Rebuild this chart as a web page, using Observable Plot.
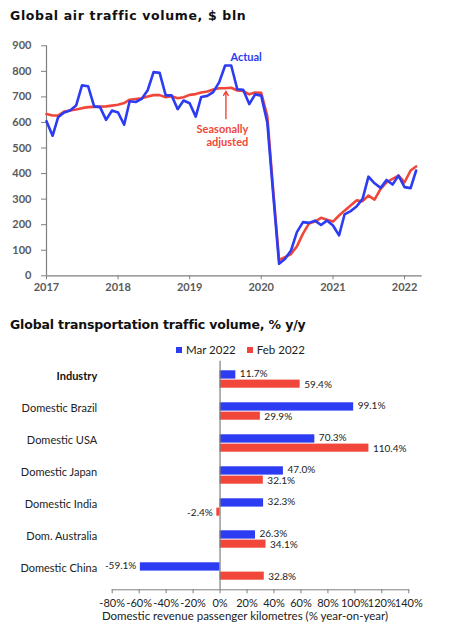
<!DOCTYPE html>
<html>
<head>
<meta charset="utf-8">
<script src="https://cdn.jsdelivr.net/npm/d3@7"></script>
<script src="https://cdn.jsdelivr.net/npm/@observablehq/plot@0.6"></script>
<style>
  html, body { margin: 0; padding: 0; background: #fff; }
  #page { position: relative; width: 470px; height: 636px; overflow: hidden; background: #fff; font-family: Lato, "Open Sans", sans-serif; }
  .title { position: absolute; left: 10px; font-family: "DejaVu Sans", sans-serif; font-weight: bold; font-size: 12.5px; color: #111; white-space: nowrap; }
  #chart1 { position: absolute; left: 0; top: 35px; }
  #chart2 { position: absolute; left: 0; top: 340px; }
  #legend { position: absolute; top: 343px; left: 176px; display: flex; align-items: center; font-size: 11.5px; color: #222; white-space: nowrap; }
  #legend .sw { display: inline-block; width: 6px; height: 6px; margin-right: 4px; }
  #legend .item { display: flex; align-items: center; margin-right: 11px; }
  #xlabel { position: absolute; top: 609px; left: 0; width: 490px; text-align: center; font-size: 11.5px; color: #222; }
</style>
</head>
<body>
<div id="page">
  <div class="title" style="top:8px; letter-spacing:0.65px">Global air traffic volume, $ bln</div>
  <div id="chart1"></div>
  <div class="title" style="top:317px; letter-spacing:-0.15px">Global transportation traffic volume, % y/y</div>
  <div id="legend"></div>
  <div id="chart2"></div>
  <div id="xlabel">Domestic revenue passenger kilometres (% year-on-year)</div>
</div>
<script>
// ---------- Chart 1 data: monthly, Jan 2017 – Mar 2022 ----------
const firstMonth = "2017-01";
const actual = [
  605, 548, 620, 639, 647, 666, 745, 742, 663, 660, 610, 647,
  639, 591, 683, 680, 692, 726, 797, 794, 706, 706, 652, 686,
  675, 623, 700, 704, 719, 758, 823, 823, 730, 728, 672, 710,
  705, 600, 330, 47, 66, 99, 171, 210, 207, 216, 199, 216,
  197, 158, 240, 253, 271, 301, 388, 362, 344, 375, 357, 392,
  347, 343, 412
];
const seasonallyAdjusted = [
  633, 627, 627, 643, 647, 651, 656, 660, 661, 662, 663, 666,
  669, 676, 689, 692, 695, 702, 707, 707, 699, 703, 695, 699,
  708, 711, 717, 721, 729, 734, 734, 736, 725, 723, 710, 717,
  716, 625, 345, 62, 73, 85, 115, 165, 205, 212, 227, 219,
  212, 236, 255, 275, 295, 292, 314, 298, 340, 366, 379, 392,
  366, 412, 428
];
const yTicks1 = [0, 100, 200, 300, 400, 500, 600, 700, 800, 900];
const xDomain1 = ["2017-01-01", "2022-04-01"];
const actualNote = [{date: "2019-10-16", value: 855, text: "Actual"}];
const saNote = [{date: "2019-10-27", value: 548, text: "Seasonally\nadjusted"}];
const saArrow = [{date: "2019-07-05", from: 615, to: 722}];

// ---------- Chart 2 data ----------
const categories = ["Industry", "Domestic Brazil", "Domestic USA", "Domestic Japan", "Domestic India", "Dom. Australia", "Domestic China"];
const seriesNames = ["Mar 2022", "Feb 2022"];
const mar2022 = [11.7, 99.1, 70.3, 47.0, 32.3, 26.3, -59.1];
const feb2022 = [59.4, 29.9, 110.4, 32.1, -2.4, 34.1, 32.8];
const xTicks2 = [-80, -60, -40, -20, 0, 20, 40, 60, 80, 100, 120, 140];

const BLUE = "#2b3cf2";
const RED = "#f0473a";
const seriesColors = [BLUE, RED];

// ---------- Build chart 1 ----------
const start = d3.utcParse("%Y-%m")(firstMonth);
const dates = actual.map((_, i) => d3.utcMonth.offset(start, i));
const lineData = dates.map((d, i) => ({date: d, actual: actual[i], sa: seasonallyAdjusted[i]}));
const parseDay = d3.utcParse("%Y-%m-%d");

const chart1 = Plot.plot({
  width: 470,
  height: 265,
  marginLeft: 46,
  marginRight: 48.3,
  marginTop: 10.3,
  marginBottom: 24.7,
  style: {fontFamily: "Lato, sans-serif", fontSize: "11px", fontWeight: "bold", color: "#5a5a5a", background: "transparent"},
  x: {type: "utc", domain: xDomain1.map(parseDay)},
  y: {domain: [0, 900]},
  marks: [
    Plot.axisY({ticks: yTicks1, tickSize: 5, tickPadding: 10, label: null, stroke: "#7f7f7f"}),
    Plot.axisX({ticks: d3.utcYear.every(1), tickFormat: d3.utcFormat("%Y"), tickSize: 4, tickPadding: 3, label: null, stroke: "#7f7f7f"}),
    Plot.ruleY([0], {stroke: "#7f7f7f", strokeWidth: 1.2}),
    Plot.ruleX([dates[0]], {y1: 0, y2: 900, stroke: "#7f7f7f", strokeWidth: 1.2}),
    Plot.line(lineData, {x: "date", y: "sa", stroke: RED, strokeWidth: 2.6, strokeLinejoin: "round"}),
    Plot.line(lineData, {x: "date", y: "actual", stroke: BLUE, strokeWidth: 2.6, strokeLinejoin: "round"}),
    Plot.text(actualNote, {x: d => parseDay(d.date), y: "value", text: "text", fill: BLUE, fontSize: 11, fontWeight: "bold"}),
    Plot.text(saNote, {x: d => parseDay(d.date), y: "value", text: "text", fill: RED, fontSize: 11, fontWeight: "bold", textAnchor: "end", lineHeight: 1.15}),
    Plot.arrow(saArrow, {x: d => parseDay(d.date), y1: "from", y2: "to", stroke: RED, strokeWidth: 1.4, headLength: 5})
  ]
});
document.getElementById("chart1").appendChild(chart1);

// ---------- Legend ----------
const legend = document.getElementById("legend");
seriesNames.forEach((name, i) => {
  const item = document.createElement("span");
  item.className = "item";
  const sw = document.createElement("span");
  sw.className = "sw";
  sw.style.background = seriesColors[i];
  item.appendChild(sw);
  item.appendChild(document.createTextNode(name));
  legend.appendChild(item);
});

// ---------- Build chart 2 ----------
const rows = [];
categories.forEach((c, i) => {
  rows.push({cat: c, series: seriesNames[0], value: mar2022[i]});
  rows.push({cat: c, series: seriesNames[1], value: feb2022[i]});
});
const marRows = rows.filter(r => r.series === seriesNames[0]);
const febRows = rows.filter(r => r.series === seriesNames[1]);
const fmt = v => v.toFixed(1) + "%";

function valueLabels(data, dy, fill) {
  return [
    Plot.text(data.filter(r => r.value >= 0), {x: "value", y: "cat", text: d => fmt(d.value), textAnchor: "start", dx: 4, dy, fill, fontSize: 10}),
    Plot.text(data.filter(r => r.value < 0), {x: "value", y: "cat", text: d => fmt(d.value), textAnchor: "end", dx: -4, dy, fill, fontSize: 10})
  ];
}

const chart2 = Plot.plot({
  width: 470,
  height: 296,
  marginLeft: 111.7,
  marginRight: 61.7,
  marginTop: 20.7,
  marginBottom: 46.7,
  style: {fontFamily: "Lato, sans-serif", fontSize: "11.5px", color: "#222", background: "transparent"},
  x: {domain: [-80, 140]},
  y: {type: "band", domain: categories, padding: 0, axis: null},
  marks: [
    Plot.barX(marRows, {x: "value", y: "cat", fill: BLUE, insetTop: 7.3, insetBottom: 16.4}),
    Plot.barX(febRows, {x: "value", y: "cat", fill: RED, insetTop: 16.6, insetBottom: 7.3}),
    Plot.ruleX([0], {stroke: "#7f7f7f", strokeWidth: 1.2}),
    Plot.axisX({ticks: xTicks2, tickFormat: d => d + "%", tickSize: 4, tickPadding: 5, label: null, stroke: "#7f7f7f", fontSize: 11}),
    Plot.frame({anchor: "bottom", stroke: "#7f7f7f"}),
    ...valueLabels(marRows, -5.5, "#222"),
    ...valueLabels(febRows, 5.5, "#222"),
    Plot.text(categories.filter(c => c === "Industry"), {y: d => d, text: d => d, frameAnchor: "left", textAnchor: "end", dx: -15, dy: -3, fontWeight: "bold", fill: "#111", fontSize: 11}),
    Plot.text(categories.filter(c => c !== "Industry"), {y: d => d, text: d => d, frameAnchor: "left", textAnchor: "end", dx: -15, dy: -3, fill: "#222", fontSize: 11})
  ]
});
document.getElementById("chart2").appendChild(chart2);
</script>
</body>
</html>
